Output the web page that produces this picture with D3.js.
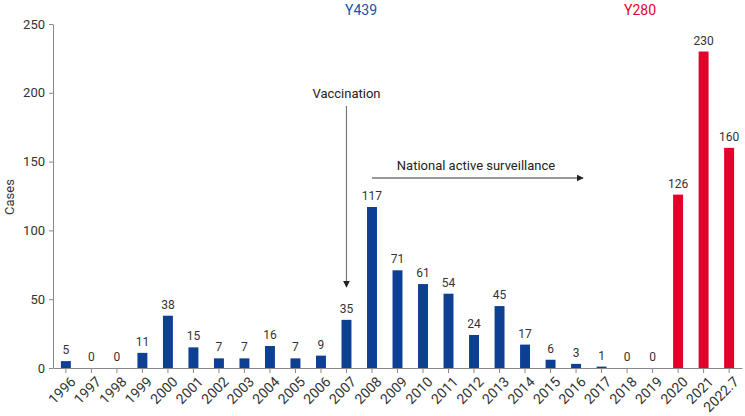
<!DOCTYPE html>
<html>
<head>
<meta charset="utf-8">
<script src="https://cdn.jsdelivr.net/npm/d3@7"></script>
<style>
  body { margin: 0; background: #fff; }
  text { font-family: Roboto, "Noto Sans", sans-serif; }
</style>
</head>
<body>
<svg width="745" height="416"></svg>
<script>
// years on the x axis, case counts per year, which strain each bar belongs to
const years = ['1996','1997','1998','1999','2000','2001','2002','2003','2004','2005','2006','2007','2008',
  '2009','2010','2011','2012','2013','2014','2015','2016','2017','2018','2019','2020','2021','2022.7'];
const cases = [5,0,0,11,38,15,7,7,16,7,9,35,117,71,61,54,24,45,17,6,3,1,0,0,126,230,160];
const strain = years.map(y => (y >= '2020' ? 'Y280' : 'Y439'));
const yTicks = [0, 50, 100, 150, 200, 250];

const data = years.map((y, i) => ({ year: y, value: cases[i], strain: strain[i] }));

const svg = d3.select('svg');
const color = { Y439: '#0d3f93', Y280: '#e4002b' };
const labelColor = { Y439: '#1d50a8', Y280: '#e4002b' };

const x = d3.scaleBand().domain(years).range([53, 742]).paddingInner(0.61).paddingOuter(0.31);
const y = d3.scaleLinear().domain([0, 250]).range([368, 24]);

// bars
svg.append('g').selectAll('rect')
  .data(data)
  .join('rect')
    .attr('x', d => x(d.year))
    .attr('y', d => y(d.value))
    .attr('width', x.bandwidth())
    .attr('height', d => y(0) - y(d.value))
    .attr('fill', d => color[d.strain]);

// value labels
svg.append('g').selectAll('text')
  .data(data)
  .join('text')
    .attr('x', d => x(d.year) + x.bandwidth() / 2)
    .attr('y', d => y(d.value) - 7)
    .attr('text-anchor', 'middle')
    .attr('font-size', 12)
    .attr('fill', '#333')
    .text(d => d.value);

// y axis
const yAxis = svg.append('g')
  .attr('transform', 'translate(53,0)')
  .call(d3.axisLeft(y).tickValues(yTicks).tickSize(4).tickPadding(4).tickSizeOuter(0));
yAxis.select('.domain').attr('stroke', '#888');
yAxis.selectAll('.tick line').attr('stroke', '#888');
yAxis.selectAll('.tick text').attr('font-size', 13).attr('fill', '#333');

// x axis
const xAxis = svg.append('g')
  .attr('transform', 'translate(0,368)')
  .call(d3.axisBottom(x).tickSize(5).tickSizeOuter(0));
xAxis.select('.domain').attr('stroke', '#888');
xAxis.selectAll('.tick line').attr('stroke', '#888');
xAxis.selectAll('.tick text')
  .attr('font-size', 14)
  .attr('fill', '#333')
  .attr('text-anchor', 'end')
  .attr('dy', null)
  .attr('transform', 'translate(5,9) rotate(-45)');

// axis title
svg.append('text')
  .attr('transform', 'translate(14,197) rotate(-90)')
  .attr('text-anchor', 'middle')
  .attr('font-size', 13)
  .attr('fill', '#333')
  .text('Cases');

// strain headers
const headers = [{ name: 'Y439', cx: 361 }, { name: 'Y280', cx: 640 }];
svg.selectAll('.hdr')
  .data(headers)
  .join('text')
    .attr('x', d => d.cx)
    .attr('y', 15)
    .attr('text-anchor', 'middle')
    .attr('font-size', 14)
    .attr('fill', d => labelColor[d.name])
    .text(d => d.name);

// arrows
svg.append('defs').append('marker')
  .attr('id', 'head')
  .attr('viewBox', '0 0 10 10')
  .attr('refX', 9).attr('refY', 5)
  .attr('markerWidth', 7).attr('markerHeight', 7)
  .attr('markerUnits', 'userSpaceOnUse')
  .attr('orient', 'auto')
  .append('path').attr('d', 'M0,0L10,5L0,10Z').attr('fill', '#222');

const vx = x('2007') + x.bandwidth() / 2;
svg.append('text')
  .attr('x', vx).attr('y', 98)
  .attr('text-anchor', 'middle')
  .attr('font-size', 13).attr('fill', '#222')
  .text('Vaccination');
svg.append('line')
  .attr('x1', vx).attr('x2', vx)
  .attr('y1', 106).attr('y2', 287)
  .attr('stroke', '#777').attr('stroke-width', 1.2)
  .attr('marker-end', 'url(#head)');

const sx = x('2008') + x.bandwidth() / 2;
svg.append('text')
  .attr('x', 476).attr('y', 170)
  .attr('text-anchor', 'middle')
  .attr('font-size', 13).attr('fill', '#222')
  .text('National active surveillance');
svg.append('line')
  .attr('x1', sx).attr('x2', 583)
  .attr('y1', 178).attr('y2', 178)
  .attr('stroke', '#333').attr('stroke-width', 1)
  .attr('marker-end', 'url(#head)');
</script>
</body>
</html>
